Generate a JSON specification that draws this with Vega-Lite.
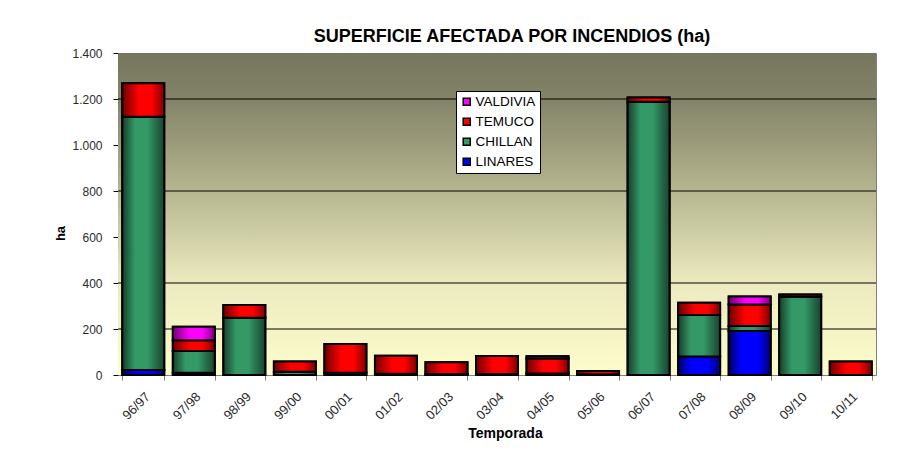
{
  "$schema": "https://vega.github.io/schema/vega-lite/v6.json",
  "autosize": "none",
  "width": 758,
  "height": 322,
  "padding": {"left": 118, "top": 53, "right": 29, "bottom": 92},
  "background": "white",
  "title": {"text": "SUPERFICIE AFECTADA POR INCENDIOS (ha)", "font": "Liberation Sans", "fontSize": 18, "fontWeight": "bold", "color": "#000000", "anchor": "middle", "dx": 15, "dy": 23, "offset": 10, "baseline": "alphabetic"},
  "config": {
    "view": {"stroke": "#808080", "strokeWidth": 1},
    "axis": {"labelFont": "Liberation Sans", "titleFont": "Liberation Sans", "labelColor": "#2a2a2a", "titleColor": "#000"}
  },
  "data": {"values": [
    {"temporada": "96/97", "serie": "LINARES", "ha": 22},
    {"temporada": "96/97", "serie": "CHILLAN", "ha": 1101},
    {"temporada": "96/97", "serie": "TEMUCO", "ha": 145},
    {"temporada": "97/98", "serie": "LINARES", "ha": 10},
    {"temporada": "97/98", "serie": "CHILLAN", "ha": 94},
    {"temporada": "97/98", "serie": "TEMUCO", "ha": 47},
    {"temporada": "97/98", "serie": "VALDIVIA", "ha": 59},
    {"temporada": "98/99", "serie": "CHILLAN", "ha": 249},
    {"temporada": "98/99", "serie": "TEMUCO", "ha": 55},
    {"temporada": "99/00", "serie": "CHILLAN", "ha": 14},
    {"temporada": "99/00", "serie": "TEMUCO", "ha": 45},
    {"temporada": "00/01", "serie": "CHILLAN", "ha": 10},
    {"temporada": "00/01", "serie": "TEMUCO", "ha": 125},
    {"temporada": "01/02", "serie": "CHILLAN", "ha": 5},
    {"temporada": "01/02", "serie": "TEMUCO", "ha": 79},
    {"temporada": "02/03", "serie": "CHILLAN", "ha": 4},
    {"temporada": "02/03", "serie": "TEMUCO", "ha": 51},
    {"temporada": "03/04", "serie": "CHILLAN", "ha": 4},
    {"temporada": "03/04", "serie": "TEMUCO", "ha": 79},
    {"temporada": "04/05", "serie": "CHILLAN", "ha": 7},
    {"temporada": "04/05", "serie": "TEMUCO", "ha": 65},
    {"temporada": "04/05", "serie": "VALDIVIA", "ha": 10},
    {"temporada": "05/06", "serie": "CHILLAN", "ha": 3},
    {"temporada": "05/06", "serie": "TEMUCO", "ha": 14},
    {"temporada": "06/07", "serie": "CHILLAN", "ha": 1188},
    {"temporada": "06/07", "serie": "TEMUCO", "ha": 18},
    {"temporada": "07/08", "serie": "LINARES", "ha": 80},
    {"temporada": "07/08", "serie": "CHILLAN", "ha": 181},
    {"temporada": "07/08", "serie": "TEMUCO", "ha": 53},
    {"temporada": "08/09", "serie": "LINARES", "ha": 191},
    {"temporada": "08/09", "serie": "CHILLAN", "ha": 22},
    {"temporada": "08/09", "serie": "TEMUCO", "ha": 94},
    {"temporada": "08/09", "serie": "VALDIVIA", "ha": 34},
    {"temporada": "09/10", "serie": "CHILLAN", "ha": 340},
    {"temporada": "09/10", "serie": "TEMUCO", "ha": 10},
    {"temporada": "10/11", "serie": "TEMUCO", "ha": 59}
  ]},
  "layer": [
    {
      "data": {"values": [{}]},
      "mark": {"type": "rect", "color": {"gradient": "linear", "x1": 0, "y1": 0, "x2": 0, "y2": 1, "stops": [
        {"offset": 0, "color": "#76765e"},
        {"offset": 0.15, "color": "#848469"},
        {"offset": 0.43, "color": "#b6b690"},
        {"offset": 0.72, "color": "#ecebc0"},
        {"offset": 1, "color": "#fdfccb"}
      ]}},
      "encoding": {}
    },
    {
      "data": {"values": [{"g": 200}, {"g": 400}, {"g": 800}, {"g": 1200}]},
      "mark": {"type": "rule", "color": "#000000", "strokeWidth": 1},
      "encoding": {"y": {"field": "g", "type": "quantitative"}}
    },
    {
      "transform": [{"calculate": "indexof(['LINARES','CHILLAN','TEMUCO','VALDIVIA'], datum.serie)", "as": "orden"}],
      "mark": {"type": "bar", "stroke": "#000000", "strokeWidth": 2},
      "encoding": {
        "x": {"field": "temporada", "type": "nominal", "sort": null,
          "scale": {"paddingInner": 0.17, "paddingOuter": 0.085},
          "axis": {"title": "Temporada", "titleFontSize": 14, "titleFontWeight": "bold", "titleX": 387, "titleY": 62, "titleBaseline": "alphabetic", "titleAlign": "center", "labelAngle": -45, "labelFontSize": 13, "tickBand": "extent", "domainColor": "#808080", "tickColor": "#808080", "tickSize": 5, "labelPadding": 10}},
        "y": {"field": "ha", "type": "quantitative", "stack": "zero",
          "scale": {"domain": [0, 1400]},
          "axis": {"title": "ha", "titleFontSize": 13, "titleFontWeight": "bold", "titleX": -58, "titleY": 180, "titleAlign": "center", "titleBaseline": "middle", "values": [0, 200, 400, 600, 800, 1000, 1200, 1400], "labelExpr": "replace(format(datum.value, ','), ',', '.')", "labelFontSize": 12, "grid": false, "domainColor": "#808080", "tickColor": "#000000", "tickSize": 5, "labelPadding": 11}},
        "color": {"field": "serie", "type": "nominal",
          "scale": {"domain": ["VALDIVIA", "TEMUCO", "CHILLAN", "LINARES"], "range": ["#ff00ff", "#ff0000", "#339966", "#0000ff"]},
          "legend": {"title": null, "orient": "none", "legendX": 338, "legendY": 38, "fillColor": "#ffffff", "strokeColor": "#000000", "padding": 4, "symbolType": "square", "symbolSize": 50, "symbolStrokeColor": "#000000", "symbolStrokeWidth": 1.5, "labelFont": "Liberation Sans", "labelFontSize": 13.5, "labelColor": "#000", "rowPadding": 5, "labelOffset": 2}},
        "order": {"field": "orden", "type": "quantitative"}
      }
    },
    {
      "transform": [
        {"calculate": "indexof(['LINARES','CHILLAN','TEMUCO','VALDIVIA'], datum.serie)", "as": "orden"},
        {"stack": "ha", "groupby": ["temporada"], "sort": [{"field": "orden"}], "as": ["v0", "v1"]},
        {"filter": "datum.serie === 'LINARES'"}
      ],
      "mark": {"type": "bar", "stroke": "#000000", "strokeWidth": 2, "color": {"gradient": "linear", "x1": 0, "y1": 0, "x2": 1, "y2": 0, "stops": [
        {"offset": 0, "color": "#000060"}, {"offset": 0.3, "color": "#0000ff"}, {"offset": 0.7, "color": "#0000ff"}, {"offset": 1, "color": "#000070"}]}},
      "encoding": {"x": {"field": "temporada", "type": "nominal", "sort": null}, "y": {"field": "v0", "type": "quantitative"}, "y2": {"field": "v1"}}
    },
    {
      "transform": [
        {"calculate": "indexof(['LINARES','CHILLAN','TEMUCO','VALDIVIA'], datum.serie)", "as": "orden"},
        {"stack": "ha", "groupby": ["temporada"], "sort": [{"field": "orden"}], "as": ["v0", "v1"]},
        {"filter": "datum.serie === 'CHILLAN'"}
      ],
      "mark": {"type": "bar", "stroke": "#000000", "strokeWidth": 2, "color": {"gradient": "linear", "x1": 0, "y1": 0, "x2": 1, "y2": 0, "stops": [
        {"offset": 0, "color": "#183d2b"}, {"offset": 0.3, "color": "#339966"}, {"offset": 0.6, "color": "#339966"}, {"offset": 1, "color": "#1a4230"}]}},
      "encoding": {"x": {"field": "temporada", "type": "nominal", "sort": null}, "y": {"field": "v0", "type": "quantitative"}, "y2": {"field": "v1"}}
    },
    {
      "transform": [
        {"calculate": "indexof(['LINARES','CHILLAN','TEMUCO','VALDIVIA'], datum.serie)", "as": "orden"},
        {"stack": "ha", "groupby": ["temporada"], "sort": [{"field": "orden"}], "as": ["v0", "v1"]},
        {"filter": "datum.serie === 'TEMUCO'"}
      ],
      "mark": {"type": "bar", "stroke": "#000000", "strokeWidth": 2, "color": {"gradient": "linear", "x1": 0, "y1": 0, "x2": 1, "y2": 0, "stops": [
        {"offset": 0, "color": "#700000"}, {"offset": 0.4, "color": "#ff0000"}, {"offset": 0.7, "color": "#ff0000"}, {"offset": 1, "color": "#800000"}]}},
      "encoding": {"x": {"field": "temporada", "type": "nominal", "sort": null}, "y": {"field": "v0", "type": "quantitative"}, "y2": {"field": "v1"}}
    },
    {
      "transform": [
        {"calculate": "indexof(['LINARES','CHILLAN','TEMUCO','VALDIVIA'], datum.serie)", "as": "orden"},
        {"stack": "ha", "groupby": ["temporada"], "sort": [{"field": "orden"}], "as": ["v0", "v1"]},
        {"filter": "datum.serie === 'VALDIVIA'"}
      ],
      "mark": {"type": "bar", "stroke": "#000000", "strokeWidth": 2, "color": {"gradient": "linear", "x1": 0, "y1": 0, "x2": 1, "y2": 0, "stops": [
        {"offset": 0, "color": "#700070"}, {"offset": 0.4, "color": "#ff00ff"}, {"offset": 0.7, "color": "#ff00ff"}, {"offset": 1, "color": "#800080"}]}},
      "encoding": {"x": {"field": "temporada", "type": "nominal", "sort": null}, "y": {"field": "v0", "type": "quantitative"}, "y2": {"field": "v1"}}
    }
  ]
}
